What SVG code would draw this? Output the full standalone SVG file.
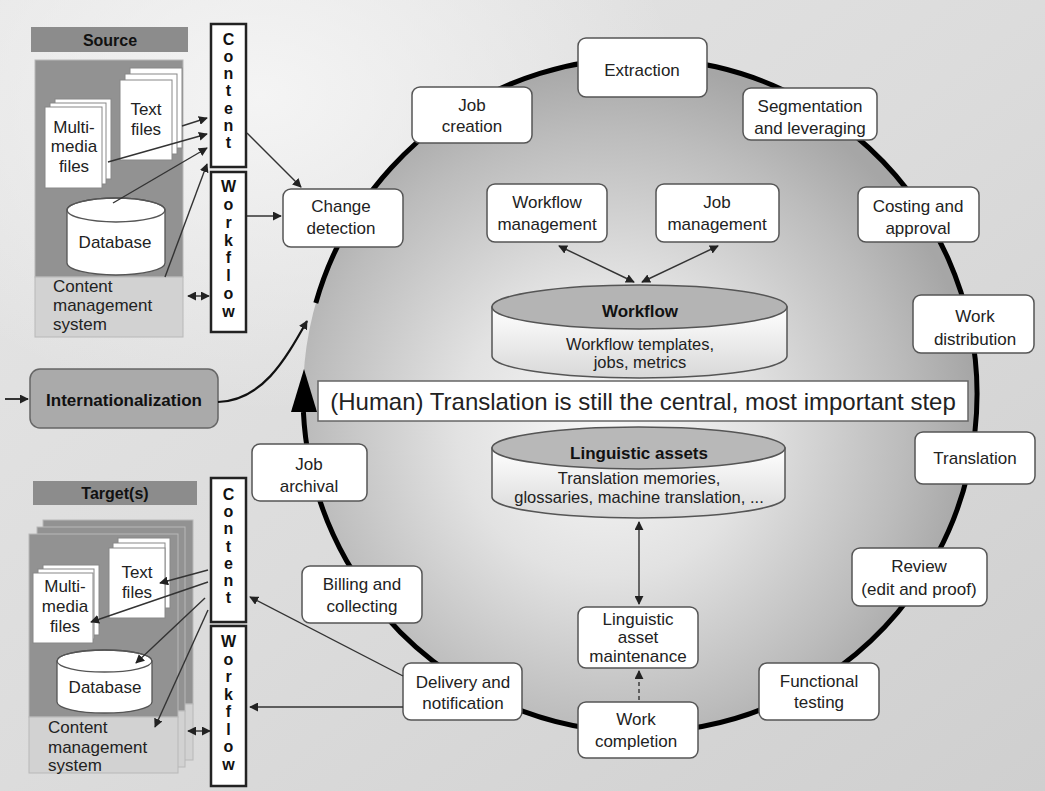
<svg xmlns="http://www.w3.org/2000/svg" width="1045" height="791" viewBox="0 0 1045 791">
<style>
.t{font-family:"Liberation Sans",Arial,Helvetica,sans-serif;font-size:17px;fill:#222;text-anchor:middle}
.s{text-anchor:start}
.b{font-weight:bold;fill:#111}
.m{font-size:16.5px}
.h{font-size:16px}
.big{font-size:24px}
.v{font-family:"Liberation Sans",Arial,sans-serif;font-size:16px;font-weight:bold;fill:#111;text-anchor:middle}
.n{fill:#fff;stroke:#555;stroke-width:1.5}
.vb{fill:#fff;stroke:#222;stroke-width:2.5}
.pg{fill:#fff;stroke:#888;stroke-width:1}
.db{fill:#fff;stroke:#555;stroke-width:1.3}
.c{fill:none;stroke:#333;stroke-width:1.4}
.hd{fill:#8c8c8c}
.up{fill:#929292;stroke:#b8b8b8;stroke-width:1}
.lo{fill:#d2d2d2;stroke:#b8b8b8;stroke-width:1}
</style>
<defs>
<marker id="ah" viewBox="0 0 10 10" refX="9" refY="5" markerWidth="9" markerHeight="9" markerUnits="userSpaceOnUse" orient="auto-start-reverse"><path d="M0,0 L10,5 L0,10 z" fill="#222"/></marker>
<linearGradient id="bg" x1="0" y1="0" x2="1" y2="1"><stop offset="0" stop-color="#e6e6e6"/><stop offset="0.5" stop-color="#dcdcdc"/><stop offset="1" stop-color="#cfcfcf"/></linearGradient>
<radialGradient id="glow" cx="0.25" cy="0.12" r="0.4"><stop offset="0" stop-color="#f6f6f6" stop-opacity="0.9"/><stop offset="1" stop-color="#f6f6f6" stop-opacity="0"/></radialGradient>
<radialGradient id="cg" cx="0.45" cy="0.55" r="0.55"><stop offset="0" stop-color="#f8f8f8"/><stop offset="0.4" stop-color="#e2e2e2"/><stop offset="0.8" stop-color="#bcbcbc"/><stop offset="1" stop-color="#a6a6a6"/></radialGradient>
<linearGradient id="cyl" x1="0" y1="0" x2="0" y2="1"><stop offset="0" stop-color="#ffffff"/><stop offset="1" stop-color="#d8d8d8"/></linearGradient>
</defs>
<rect width="1045" height="791" fill="url(#bg)"/>
<rect width="1045" height="791" fill="url(#glow)"/>

<g id="cycle">
<circle cx="640" cy="395" r="337" fill="url(#cg)"/>
<path d="M315.8,303 A337,337 0 1 1 303.4,412" fill="none" stroke="#000" stroke-width="5"/>
<polygon points="304,369 291,412 317,412" fill="#000"/>
</g>

<g id="source">
<rect class="hd" x="31" y="27" width="157" height="25"/>
<text class="t b h" x="110" y="46">Source</text>
<rect class="up" x="35" y="60" width="148" height="217"/>
<rect class="lo" x="35" y="277" width="148" height="60"/>
<rect class="pg" x="55" y="99" width="56" height="80"/>
<rect class="pg" x="50" y="103" width="56" height="81"/>
<rect class="pg" x="45" y="107" width="57" height="81"/>
<text class="t" x="74" y="133">Multi-</text>
<text class="t" x="74" y="152">media</text>
<text class="t" x="74" y="172">files</text>
<rect class="pg" x="130" y="68" width="52" height="80"/>
<rect class="pg" x="125" y="74" width="52" height="80"/>
<rect class="pg" x="120" y="80" width="52" height="80"/>
<text class="t" x="146" y="115">Text</text>
<text class="t" x="146" y="135">files</text>
<path class="db" d="M67,210 V263 A49,12 0 0 0 165,263 V210 A49,12 0 0 0 67,210 Z"/>
<ellipse cx="116" cy="210" rx="49" ry="12" fill="none" stroke="#555" stroke-width="1.3"/>
<text class="t" x="115" y="248">Database</text>
<text class="t s" x="53" y="292">Content</text>
<text class="t s" x="53" y="311">management</text>
<text class="t s" x="53" y="330">system</text>
</g>

<g id="source-content">
<rect class="vb" x="211" y="24" width="35" height="143"/>
<text class="v" x="228.5" y="45">C</text><text class="v" x="228.5" y="62">o</text><text class="v" x="228.5" y="79">n</text><text class="v" x="228.5" y="96">t</text><text class="v" x="228.5" y="114">e</text><text class="v" x="228.5" y="131">n</text><text class="v" x="228.5" y="148">t</text>
</g>
<g id="source-workflow">
<rect class="vb" x="211" y="172" width="35" height="160"/>
<text class="v" x="228.5" y="192">W</text><text class="v" x="228.5" y="210">o</text><text class="v" x="228.5" y="228">r</text><text class="v" x="228.5" y="246">k</text><text class="v" x="228.5" y="263">f</text><text class="v" x="228.5" y="281">l</text><text class="v" x="228.5" y="299">o</text><text class="v" x="228.5" y="317">w</text>
</g>

<g id="internationalization">
<rect x="30" y="369" width="188" height="59" rx="10" fill="#aaaaaa" stroke="#666" stroke-width="1.5"/>
<text class="t b" x="124" y="406">Internationalization</text>
</g>

<g id="target">
<rect class="hd" x="33" y="481" width="164" height="24"/>
<text class="t b h" x="115" y="499">Target(s)</text>
<rect class="up" x="43" y="520" width="150" height="184"/>
<rect class="lo" x="43" y="704" width="150" height="56"/>
<rect class="up" x="37" y="527" width="148" height="184"/>
<rect class="lo" x="37" y="711" width="148" height="56"/>
<rect class="up" x="29" y="534" width="149" height="183"/>
<rect class="lo" x="29" y="717" width="149" height="56"/>
<rect class="pg" x="43" y="565" width="56" height="70"/>
<rect class="pg" x="38" y="569" width="56" height="70"/>
<rect class="pg" x="33" y="573" width="60" height="70"/>
<text class="t" x="65" y="592">Multi-</text>
<text class="t" x="65" y="612">media</text>
<text class="t" x="65" y="632">files</text>
<rect class="pg" x="118" y="538" width="52" height="70"/>
<rect class="pg" x="113" y="543" width="52" height="70"/>
<rect class="pg" x="109" y="548" width="56" height="70"/>
<text class="t" x="137" y="578">Text</text>
<text class="t" x="137" y="598">files</text>
<path class="db" d="M57,661 V702 A47.5,11 0 0 0 152,702 V661 A47.5,11 0 0 0 57,661 Z"/>
<ellipse cx="104.5" cy="661" rx="47.5" ry="11" fill="none" stroke="#555" stroke-width="1.3"/>
<text class="t" x="105" y="693">Database</text>
<text class="t s" x="48" y="733">Content</text>
<text class="t s" x="48" y="753">management</text>
<text class="t s" x="48" y="771">system</text>
</g>

<g id="target-content">
<rect class="vb" x="211" y="478" width="35" height="144"/>
<text class="v" x="228.5" y="500">C</text><text class="v" x="228.5" y="517">o</text><text class="v" x="228.5" y="534">n</text><text class="v" x="228.5" y="552">t</text><text class="v" x="228.5" y="569">e</text><text class="v" x="228.5" y="586">n</text><text class="v" x="228.5" y="603">t</text>
</g>
<g id="target-workflow">
<rect class="vb" x="211" y="626" width="35" height="160"/>
<text class="v" x="228.5" y="647">W</text><text class="v" x="228.5" y="665">o</text><text class="v" x="228.5" y="682">r</text><text class="v" x="228.5" y="700">k</text><text class="v" x="228.5" y="717">f</text><text class="v" x="228.5" y="735">l</text><text class="v" x="228.5" y="752">o</text><text class="v" x="228.5" y="770">w</text>
</g>

<g id="extraction"><rect class="n" x="578" y="38" width="129" height="59" rx="8"/><text class="t" x="642" y="76">Extraction</text></g>
<g id="job-creation"><rect class="n" x="412" y="87" width="120" height="56" rx="8"/><text class="t" x="472" y="111">Job</text><text class="t" x="472" y="132">creation</text></g>
<g id="change-detection"><rect class="n" x="283" y="189" width="120" height="58" rx="8"/><text class="t" x="341" y="212">Change</text><text class="t" x="341" y="234">detection</text></g>
<g id="segmentation"><rect class="n" x="743" y="88" width="134" height="52" rx="8"/><text class="t" x="810" y="112">Segmentation</text><text class="t" x="810" y="134">and leveraging</text></g>
<g id="costing"><rect class="n" x="858" y="187" width="121" height="55" rx="8"/><text class="t" x="918" y="212">Costing and</text><text class="t" x="918" y="234">approval</text></g>
<g id="work-distribution"><rect class="n" x="913" y="295" width="121" height="58" rx="8"/><text class="t" x="975" y="322">Work</text><text class="t" x="975" y="345">distribution</text></g>
<g id="translation"><rect class="n" x="915" y="432" width="120" height="52" rx="8"/><text class="t" x="975" y="464">Translation</text></g>
<g id="review"><rect class="n" x="852" y="548" width="135" height="58" rx="8"/><text class="t" x="919" y="572">Review</text><text class="t" x="919" y="595">(edit and proof)</text></g>
<g id="functional-testing"><rect class="n" x="759" y="663" width="120" height="57" rx="8"/><text class="t" x="819" y="687">Functional</text><text class="t" x="819" y="708">testing</text></g>
<g id="work-completion"><rect class="n" x="578" y="702" width="120" height="56" rx="8"/><text class="t" x="636" y="725">Work</text><text class="t" x="636" y="747">completion</text></g>
<g id="delivery"><rect class="n" x="403" y="663" width="119" height="57" rx="8"/><text class="t" x="463" y="688">Delivery and</text><text class="t" x="463" y="709">notification</text></g>
<g id="billing"><rect class="n" x="302" y="566" width="120" height="57" rx="8"/><text class="t" x="362" y="590">Billing and</text><text class="t" x="362" y="612">collecting</text></g>
<g id="job-archival"><rect class="n" x="252" y="444" width="115" height="57" rx="8"/><text class="t" x="309" y="470">Job</text><text class="t" x="309" y="492">archival</text></g>
<g id="workflow-management"><rect class="n" x="487" y="184" width="120" height="58" rx="8"/><text class="t" x="547" y="208">Workflow</text><text class="t" x="547" y="230">management</text></g>
<g id="job-management"><rect class="n" x="656" y="184" width="123" height="58" rx="8"/><text class="t" x="717" y="208">Job</text><text class="t" x="717" y="230">management</text></g>
<g id="linguistic-maintenance"><rect class="n" x="578" y="607" width="120" height="61" rx="8"/><text class="t" x="638" y="625">Linguistic</text><text class="t" x="638" y="643">asset</text><text class="t" x="638" y="662">maintenance</text></g>

<g id="workflow-db">
<path d="M492,307 V356 A147.5,22 0 0 0 787,356 V307 Z" fill="url(#cyl)" stroke="#555" stroke-width="1.5"/>
<ellipse cx="639.5" cy="307" rx="147.5" ry="22" fill="#b4b4b4" stroke="#555" stroke-width="1.5"/>
<text class="t b" x="640" y="317">Workflow</text>
<text class="t m" x="640" y="350">Workflow templates,</text>
<text class="t m" x="640" y="368">jobs, metrics</text>
</g>
<g id="linguistic-db">
<path d="M492,448 V497 A146.5,21 0 0 0 785,497 V448 Z" fill="url(#cyl)" stroke="#555" stroke-width="1.5"/>
<ellipse cx="638.5" cy="448" rx="146.5" ry="21" fill="#b8b8b8" stroke="#555" stroke-width="1.5"/>
<text class="t b" x="639" y="459">Linguistic assets</text>
<text class="t m" x="639" y="484">Translation memories,</text>
<text class="t m" x="639" y="503">glossaries, machine translation, ...</text>
</g>

<g id="banner">
<rect x="318" y="381" width="650" height="40" fill="#fff" stroke="#666" stroke-width="1.5"/>
<text class="t big" x="643" y="410">(Human) Translation is still the central, most important step</text>
</g>

<g id="connectors">
<path class="c" d="M182,126 L207,118" marker-end="url(#ah)"/>
<path class="c" d="M108,162 L207,134" marker-end="url(#ah)"/>
<path class="c" d="M113,203 L207,148" marker-end="url(#ah)"/>
<path class="c" d="M165,277 L207,164" marker-end="url(#ah)"/>
<path class="c" d="M247,133 L301,187" marker-end="url(#ah)"/>
<path class="c" d="M247,216 L281,216" marker-end="url(#ah)"/>
<path class="c" d="M188,296 L209,296" marker-start="url(#ah)" marker-end="url(#ah)"/>
<path class="c" d="M5,399 L28,399" style="stroke-width:2" marker-end="url(#ah)"/>
<path class="c" d="M218,402 C262,400 284,362 307,321" style="stroke:#111;stroke-width:2.2" marker-end="url(#ah)"/>
<path class="c" d="M208,570 L160,583" marker-end="url(#ah)"/>
<path class="c" d="M208,582 L91,622" marker-end="url(#ah)"/>
<path class="c" d="M205,598 L136,663" marker-end="url(#ah)"/>
<path class="c" d="M208,610 L155,727" marker-end="url(#ah)"/>
<path class="c" d="M188,731 L210,731" marker-start="url(#ah)" marker-end="url(#ah)"/>
<path class="c" d="M403,676 L250,597" marker-end="url(#ah)"/>
<path class="c" d="M403,707 L250,707" marker-end="url(#ah)"/>
<path class="c" d="M559,246 L634,282" marker-start="url(#ah)" marker-end="url(#ah)"/>
<path class="c" d="M718,246 L642,282" marker-start="url(#ah)" marker-end="url(#ah)"/>
<path class="c" d="M639,522 L639,604" marker-start="url(#ah)" marker-end="url(#ah)"/>
<path class="c" d="M639,700 L639,671" stroke-dasharray="4,3" marker-end="url(#ah)"/>
</g>
</svg>
